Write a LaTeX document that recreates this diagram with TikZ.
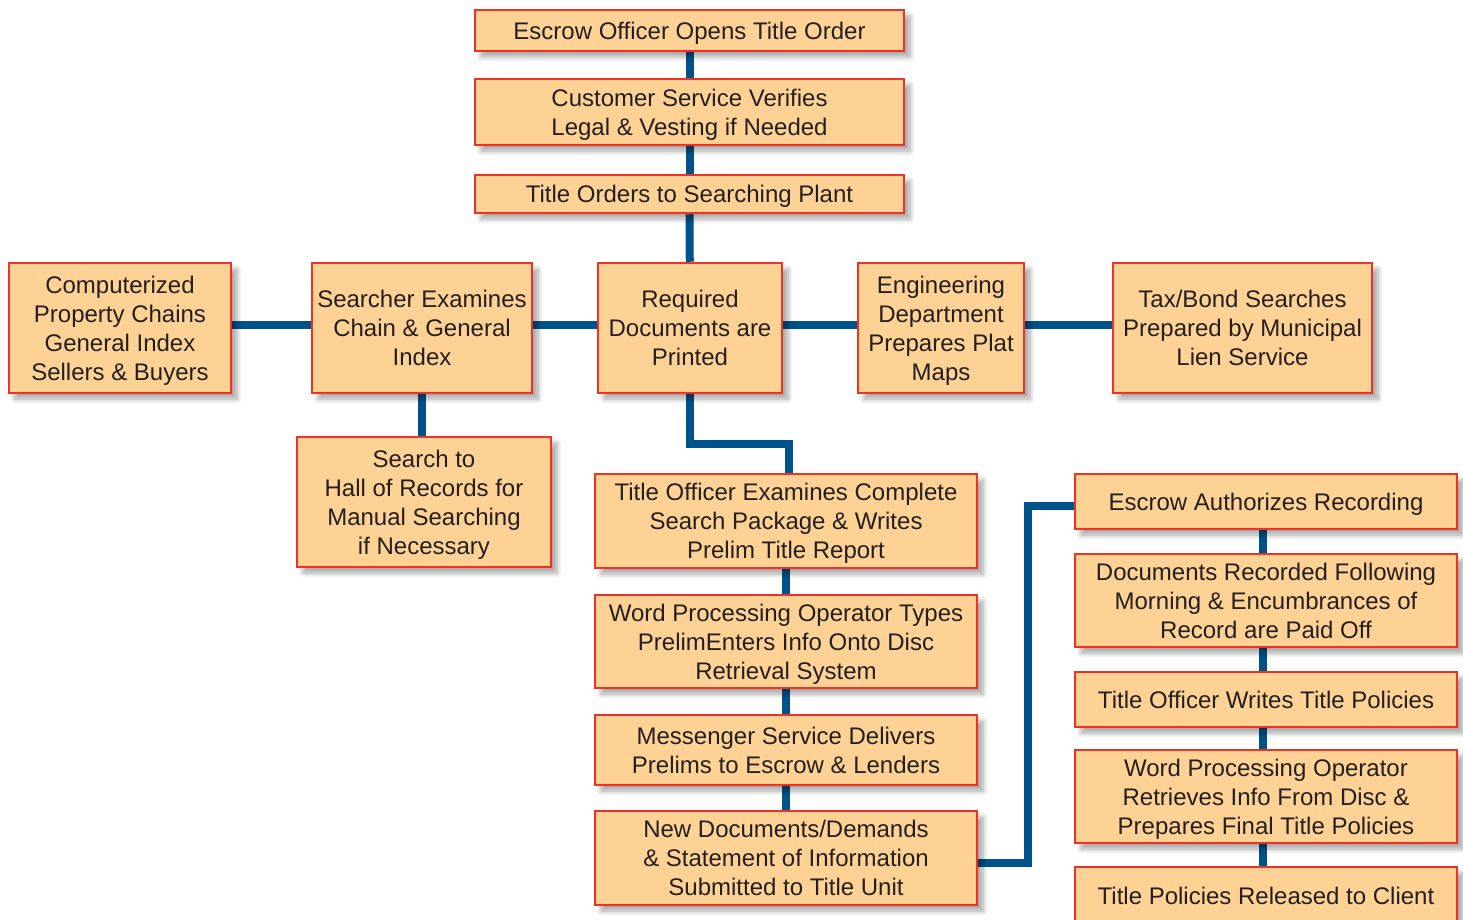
\documentclass[tikz,border=0pt]{standalone}
\usepackage{fontspec}
\setmainfont{Liberation Sans}
\usepackage{tikz}
\usetikzlibrary{shadows.blur}
\usetikzlibrary{backgrounds}
\usetikzlibrary{positioning}

\definecolor{boxfill}{RGB}{253,210,148}
\definecolor{boxedge}{RGB}{238,50,36}
\definecolor{linkblue}{RGB}{0,82,138}
\definecolor{boxtext}{RGB}{35,31,32}

\begin{document}
\begin{tikzpicture}[x=1pt,y=-1pt,
	multi/.style={text depth=-1pt}]
	\useasboundingbox (0,0) rectangle (1463,920);
	\begin{scope}[every node/.style={draw=boxedge, line width=2.5pt, fill=boxfill, text=boxtext,
	              align=center, inner sep=0pt, font=\fontsize{24}{29}\selectfont,
	              execute at begin node={\rule{0pt}{22.5pt}},
	              execute at end node={\rule[-5pt]{0pt}{0pt}},
	              blur shadow={shadow xshift=6pt, shadow yshift=-6pt, shadow blur steps=8,
	                           shadow blur radius=5pt, shadow opacity=35}}]
		\node[minimum width=429, minimum height=41] (open)    at (689.5,30.5) {Escrow Officer Opens Title Order};
		\node[multi, minimum width=429, minimum height=66] (verify)  at (689.5,112) {Customer Service Verifies\\Legal \& Vesting if Needed};
		\node[minimum width=429, minimum height=38] (orders)  at (689.5,194) {Title Orders to Searching Plant};
		\node[multi, minimum width=222, minimum height=130] (chains) at (120,328) {Computerized\\Property Chains\\General Index\\Sellers \& Buyers};
		\node[multi, minimum width=220, minimum height=130] (searcher) at (422,328) {Searcher Examines\\Chain \& General\\Index};
		\node[multi, minimum width=184, minimum height=130] (printed) at (690,328) {Required\\Documents are\\Printed};
		\node[multi, minimum width=166, minimum height=130] (plat)   at (941,328) {Engineering\\Department\\Prepares Plat\\Maps};
		\node[multi, minimum width=259, minimum height=130] (taxbond) at (1242.5,328) {Tax/Bond Searches\\Prepared by Municipal\\Lien Service};
		\node[multi, minimum width=254, minimum height=130] (hall)   at (424,502) {Search to\\Hall of Records for\\Manual Searching\\if Necessary};
		\node[multi, minimum width=382, minimum height=94] (prelim)  at (786,521) {Title Officer Examines Complete\\Search Package \& Writes\\Prelim Title Report};
		\node[multi, minimum width=382, minimum height=93] (wptypes) at (786,641.5) {Word Processing Operator Types\\PrelimEnters Info Onto Disc\\Retrieval System};
		\node[multi, minimum width=382, minimum height=70] (messenger) at (786,750) {Messenger Service Delivers\\Prelims to Escrow \& Lenders};
		\node[multi, minimum width=382, minimum height=94] (newdocs) at (786,858) {New Documents/Demands\\\& Statement of Information\\Submitted to Title Unit};
		\node[minimum width=382, minimum height=55] (authorize) at (1266,501.5) {Escrow Authorizes Recording};
		\node[multi, minimum width=382, minimum height=93] (recorded) at (1266,600.5) {Documents Recorded Following\\Morning \& Encumbrances of\\Record are Paid Off};
		\node[minimum width=382, minimum height=55] (writes)  at (1266,699.5) {Title Officer Writes Title Policies};
		\node[multi, minimum width=382, minimum height=93] (wpfinal) at (1266,796.5) {Word Processing Operator\\Retrieves Info From Disc \&\\Prepares Final Title Policies};
		\node[minimum width=382, minimum height=58] (released) at (1266,896) {Title Policies Released to Client};
	\end{scope}
	\begin{scope}[on background layer, every path/.style={draw=linkblue, line width=8pt}]
		\path (open) -- (verify);
		\path (verify) -- (orders);
		\path (orders) -- (printed);
		\path ([yshift=3pt]chains.east) -- ([yshift=3pt]searcher.west);
		\path ([yshift=3pt]searcher.east) -- ([yshift=3pt]printed.west);
		\path ([yshift=3pt]printed.east) -- ([yshift=3pt]plat.west);
		\path ([yshift=3pt]plat.east) -- ([yshift=3pt]taxbond.west);
		\path (searcher.south) -- (searcher.south |- hall.north);
		\path (printed.south) -- ++(0,50) -| ([xshift=3pt]prelim.north);
		\path (prelim) -- (wptypes);
		\path (wptypes) -- (messenger);
		\path (messenger) -- (newdocs);
		\path ([yshift=-5pt]newdocs.east) -- ++(50,0) |- ([yshift=-4.5pt]authorize.west);
		\path ([xshift=-3pt]authorize.south) -- ([xshift=-3pt]recorded.north);
		\path ([xshift=-3pt]recorded.south) -- ([xshift=-3pt]writes.north);
		\path ([xshift=-3pt]writes.south) -- ([xshift=-3pt]wpfinal.north);
		\path ([xshift=-3pt]wpfinal.south) -- ([xshift=-3pt]released.north);
	\end{scope}
\end{tikzpicture}
\end{document}
